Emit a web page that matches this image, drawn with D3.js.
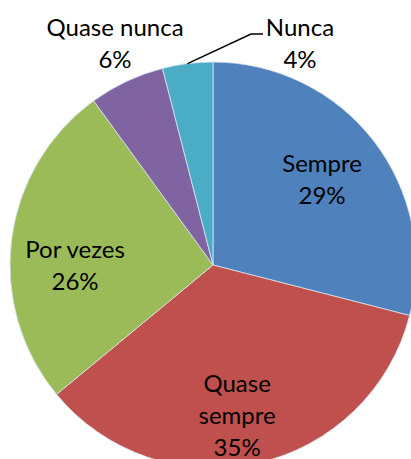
<!DOCTYPE html>
<html>
  <head>
    <meta charset="UTF-8">
    <script src="https://d3js.org/d3.v7.min.js"></script>
    <style>
      body { margin: 0; background: #fff; }
      #svg { display: block; }
      .label { font-family: Lato, "Open Sans", sans-serif; font-size: 24px; fill: #000; }
    </style>
    <title>Frequência</title>
  </head>
  <body>
    <svg id="svg" width="411" height="459"></svg>
    <script>
      // data
      const categories = ["Sempre", "Quase sempre", "Por vezes", "Quase nunca", "Nunca"];
      const values = [29, 35, 26, 6, 4];
      const colors = ["#4F81BD", "#C0504D", "#9BBB59", "#8064A2", "#4BACC6"];

      const svg = d3.select("svg#svg");
      const cx = 213, cy = 265, radius = 203;

      const data = categories.map((c, i) => ({ name: c, value: values[i], color: colors[i] }));

      const pie = d3.pie().value(d => d.value).sort(null);
      const arcs = pie(data);

      const arc = d3.arc().innerRadius(0).outerRadius(radius);
      const labelArc = d3.arc().innerRadius(radius * 0.68).outerRadius(radius * 0.68);
      const outerArc = d3.arc().innerRadius(radius * 1.18).outerRadius(radius * 1.18);

      const g = svg.append("g").attr("transform", "translate(" + cx + "," + cy + ")");

      g.selectAll("path")
        .data(arcs)
        .enter()
        .append("path")
        .attr("d", arc)
        .attr("fill", d => d.data.color)
        .attr("stroke", "#d8e4f0")
        .attr("stroke-width", 0.8);

      // label nudges (Excel best-fit placement)
      const nudge = {
        "Sempre": [0, 0],
        "Quase sempre": [-6, 16],
        "Por vezes": [-1, 18],
        "Quase nunca": [4, -4]
      };

      const lineH = 32;
      arcs.forEach((d, i) => {
        let words = d.data.name === "Quase sempre" ? ["Quase", "sempre"] : [d.data.name];
        let lines = words.concat([d.data.value + "%"]);
        let x, y;
        if (d.data.value >= 10) {
          [x, y] = labelArc.centroid(d);
        } else if (d.data.name === "Quase nunca") {
          [x, y] = outerArc.centroid(d);
        } else {
          // leader line for "Nunca"
          const mid = (d.startAngle + d.endAngle) / 2;
          const p0 = [Math.sin(mid) * radius, -Math.cos(mid) * radius];
          const p1 = [251 - cx, 34 - cy];
          const p2 = [263 - cx, 34 - cy];
          g.append("polyline")
            .attr("points", [p0, p1, p2].map(p => p.join(",")).join(" "))
            .attr("fill", "none")
            .attr("stroke", "#000")
            .attr("stroke-width", 1.5);
          x = 300 - cx;
          y = 43.5 - cy;
        }
        const n = nudge[d.data.name] || [0, 0];
        x += n[0];
        y += n[1];
        const t = g.append("text")
          .attr("class", "label")
          .attr("text-anchor", "middle");
        lines.forEach((s, k) => {
          t.append("tspan")
            .attr("x", x)
            .attr("y", y + (k - (lines.length - 1) / 2) * lineH + 8)
            .text(s);
        });
      });
    </script>
  </body>
</html>
